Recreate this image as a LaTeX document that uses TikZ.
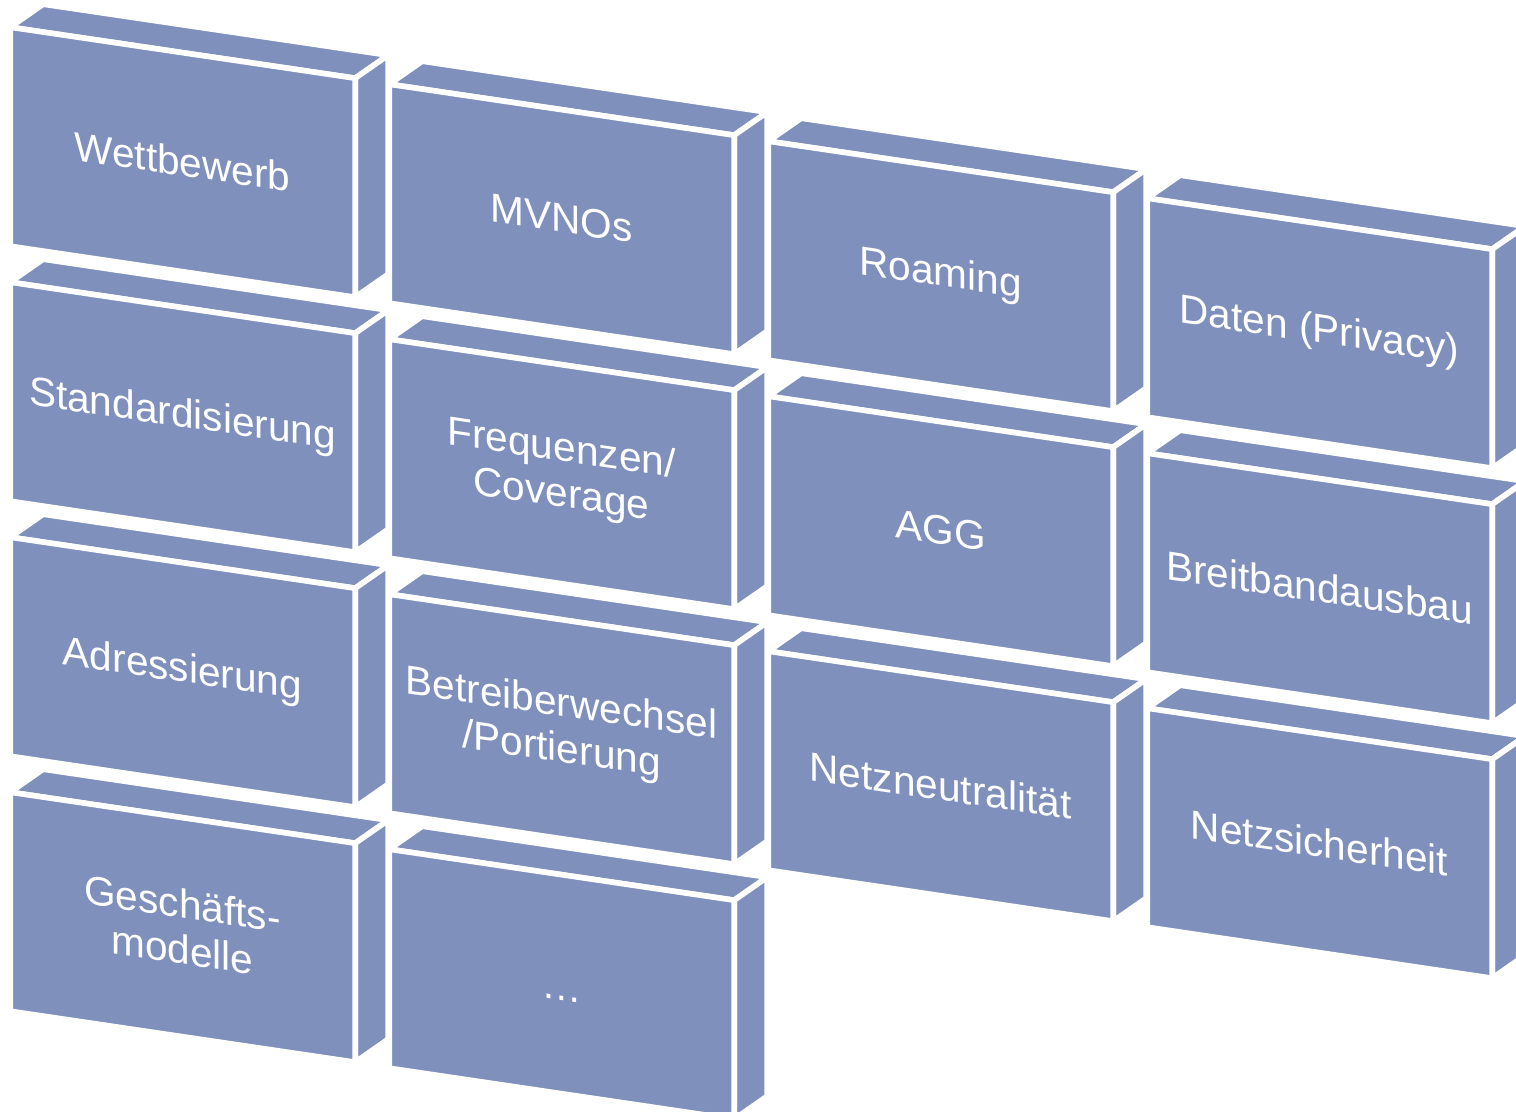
\documentclass[tikz,border=0pt]{standalone}
\usepackage{fontspec}
\setmainfont{Liberation Sans}

\definecolor{brickblue}{RGB}{128,144,189}

% one brick: name, column, row, text
\newcommand{\brick}[4]{%
  \begin{scope}[shift={(10.2+379*#2,27.2+57*#2+255*#3)}]
    \filldraw[brickface] (0,0) -- (345,51) -- (378,28) -- (33,-23) -- cycle;
    \filldraw[brickface] (345,51) -- (378,28) -- (378,247) -- (345,270) -- cycle;
    \filldraw[brickface] (0,0) -- (345,51) -- (345,270) -- (0,219) -- cycle;
    \begin{scope}[shift={(172.3,134.3)}]
      \node[bricktext] (#1) at (0,0) {#4};
    \end{scope}
  \end{scope}}

\begin{document}
\begin{tikzpicture}[x=0.5pt,y=-0.5pt]%
\tikzstyle{brickface}=[fill=brickblue,draw=white,line width=2.8pt,line join=bevel]
\tikzstyle{bricktext}=[text=white,align=center,yslant=-0.1475,transform shape,
  font=\fontsize{20.3}{23}\selectfont]
\useasboundingbox (0,0) rectangle (1516,1112);
\brick{wettbewerb}{0}{0}{Wettbewerb}
\brick{standard}{0}{1}{Standardisierung}
\brick{adress}{0}{2}{Adressierung}
\brick{geschaeft}{0}{3}{Geschäfts-\\modelle}
\brick{mvnos}{1}{0}{MVNOs}
\brick{frequenz}{1}{1}{Frequenzen/\\Coverage}
\brick{wechsel}{1}{2}{Betreiberwechsel\\/Portierung}
\brick{more}{1}{3}{\strut\raisebox{-4pt}{\dots}}
\brick{roaming}{2}{0}{Roaming}
\brick{agg}{2}{1}{AGG}
\brick{neutral}{2}{2}{Netzneutralität}
\brick{daten}{3}{0}{Daten (Privacy)}
\brick{breitband}{3}{1}{Breitbandausbau}
\brick{sicher}{3}{2}{Netzsicherheit}
\end{tikzpicture}
\end{document}
